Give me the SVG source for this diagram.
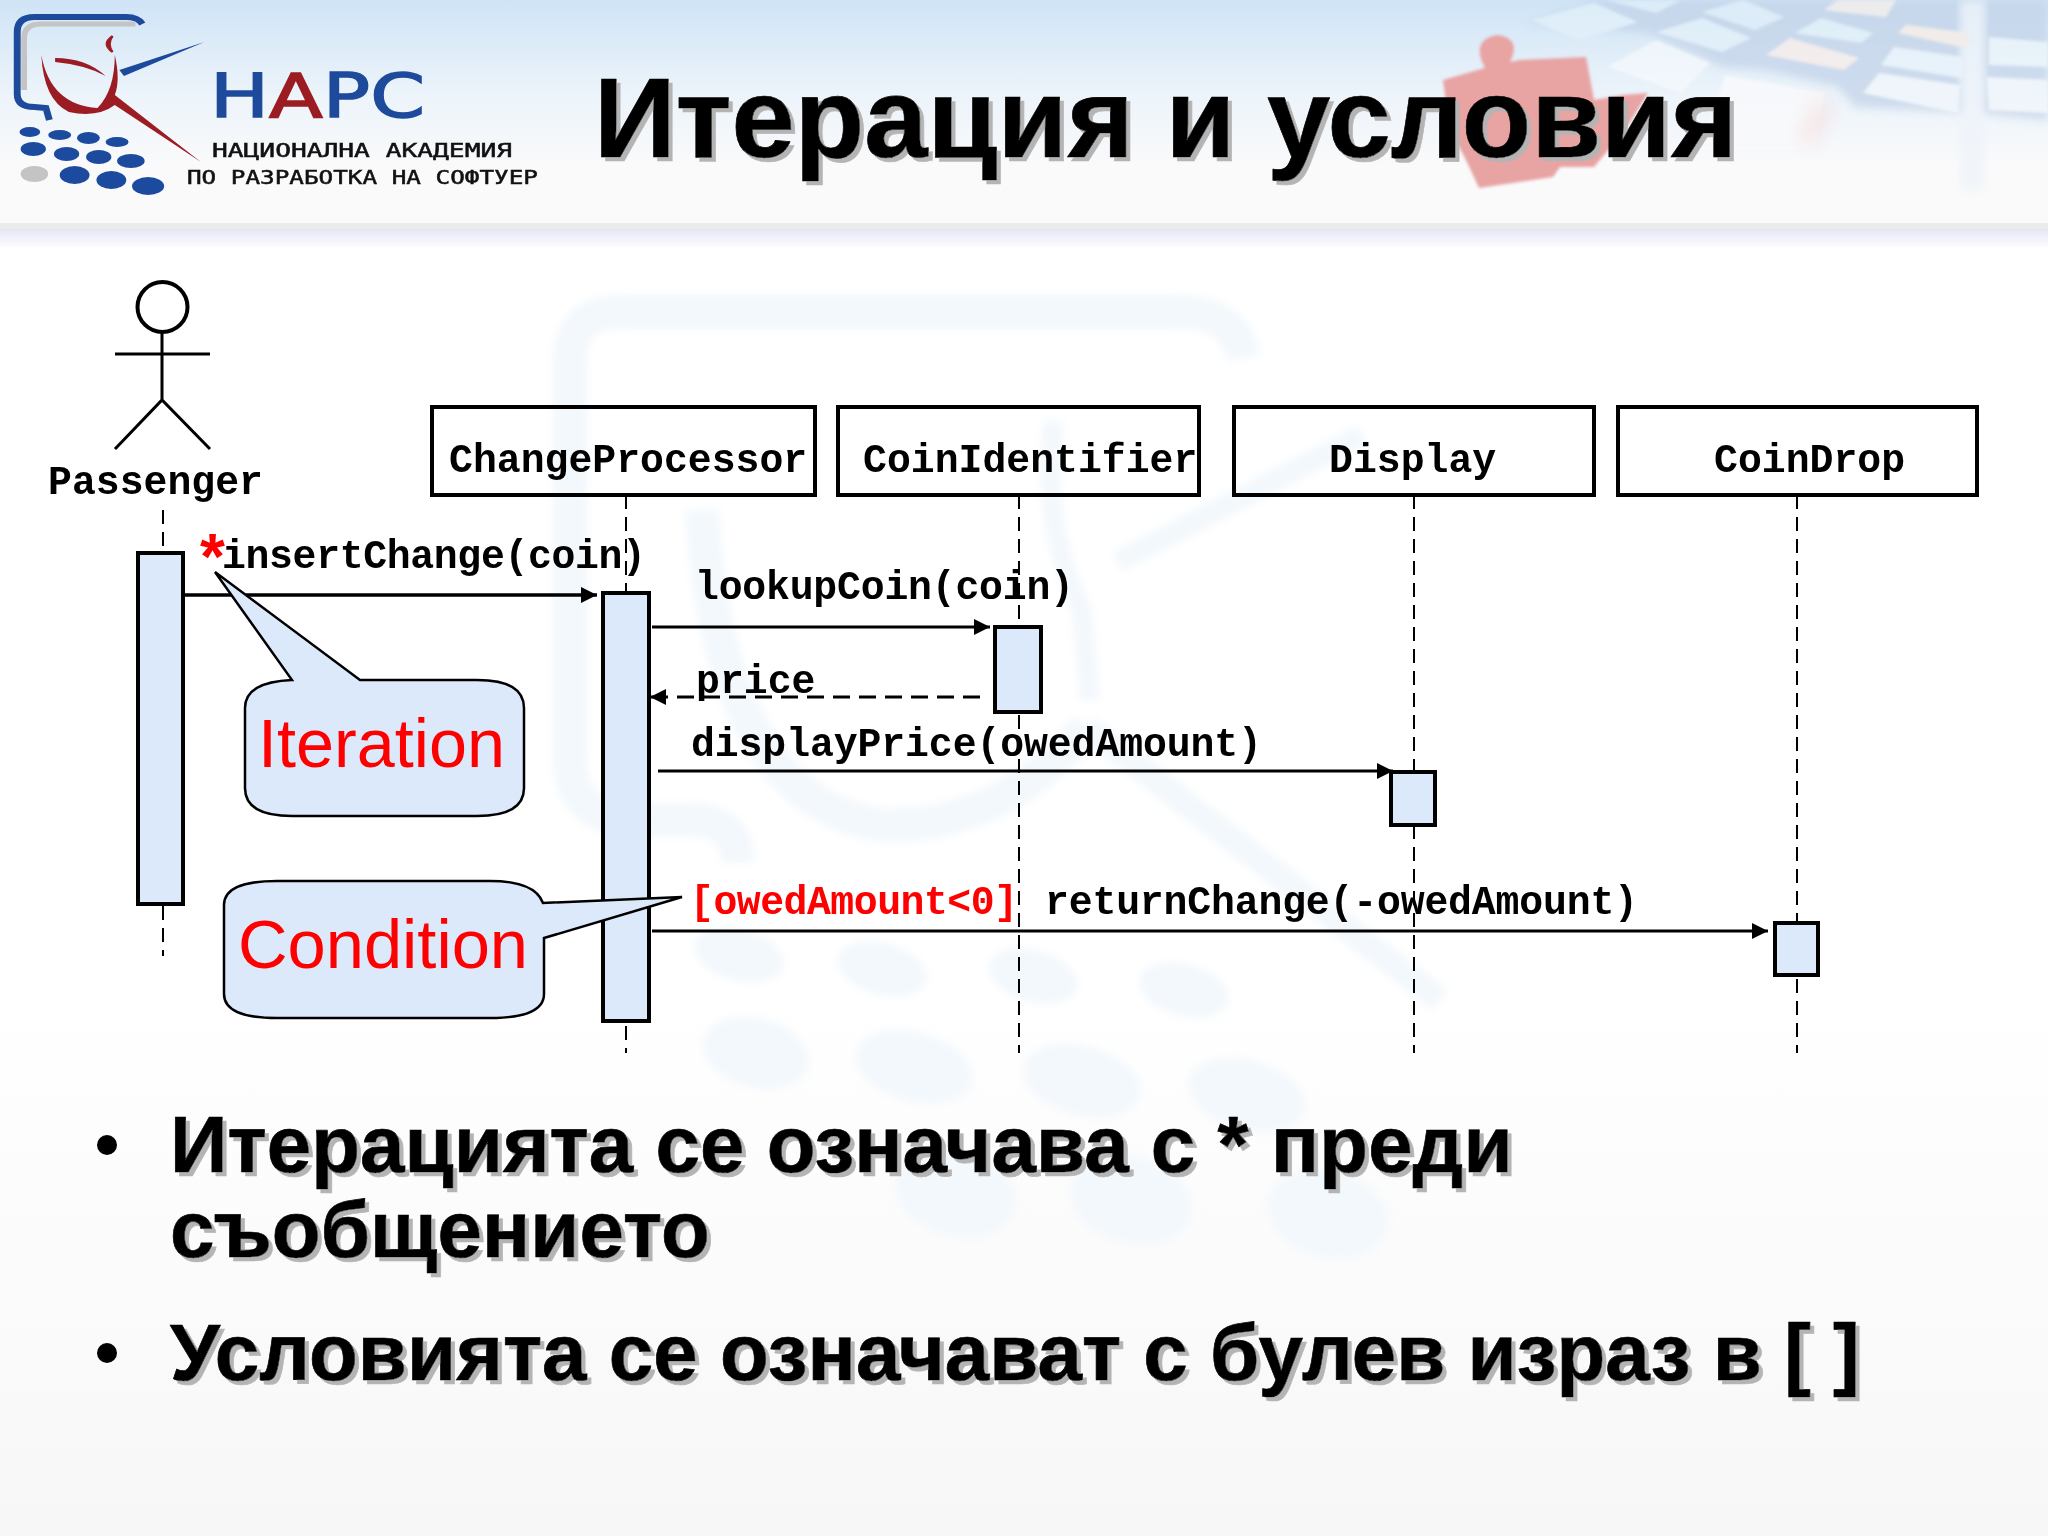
<svg xmlns="http://www.w3.org/2000/svg" width="2048" height="1536" viewBox="0 0 2048 1536">
<defs>
<linearGradient id="page" x1="0" y1="0" x2="0" y2="1"><stop offset="0" stop-color="#ffffff"/><stop offset="0.65" stop-color="#ffffff"/><stop offset="1" stop-color="#f7f7f7"/></linearGradient>
<linearGradient id="head" x1="0" y1="0" x2="0" y2="1"><stop offset="0" stop-color="#cfe4f6"/><stop offset="0.4" stop-color="#ebf3fa"/><stop offset="0.75" stop-color="#fafafb"/><stop offset="1" stop-color="#fafafa"/></linearGradient>
<linearGradient id="band" x1="0" y1="0" x2="0" y2="1"><stop offset="0" stop-color="#e4e6f6"/><stop offset="1" stop-color="#ffffff"/></linearGradient>
<filter id="soft" x="-10%" y="-10%" width="120%" height="120%"><feGaussianBlur stdDeviation="4"/></filter>
<filter id="softer" x="-30%" y="-30%" width="160%" height="160%"><feGaussianBlur stdDeviation="10"/></filter>
<filter id="tiny" x="-5%" y="-5%" width="110%" height="110%"><feGaussianBlur stdDeviation="1.5"/></filter>
<filter id="shadow" x="-5%" y="-10%" width="110%" height="130%"><feDropShadow dx="4" dy="4" stdDeviation="0.5" flood-color="#b4b4b4"/></filter>
<marker id="solid" markerUnits="userSpaceOnUse" markerWidth="16" markerHeight="16" refX="16" refY="8" orient="auto"><path d="M0,0 L16,8 L0,16 Z" fill="#000"/></marker>
</defs>
<style>
.mono{font-family:"Liberation Mono","DejaVu Sans Mono",monospace;font-weight:700;font-size:39.8px;fill:#000}
.sans{font-family:"Liberation Sans",Arial,sans-serif}
.big{font-weight:700;filter:url(#shadow);fill:#000;stroke:#000;stroke-width:0.7}
.box{fill:none;stroke:#000;stroke-width:4}
.act{fill:#dbe9fb;stroke:#000;stroke-width:4}
.life{stroke:#000;stroke-width:2;stroke-dasharray:14 8;fill:none}
.msg{stroke:#000;stroke-width:3;fill:none;marker-end:url(#solid)}
.call{fill:#dbe9fb;stroke:#000;stroke-width:2.5}
.red{fill:#ff0000}
.wm{fill:#f3f8fc}
.wl{fill:none;stroke:#f3f8fc;stroke-width:34}
.logotxt{font-family:"DejaVu Sans Mono",monospace;font-size:19px;fill:#111;stroke:#111;stroke-width:0.5}
</style>

<g id="background">
<rect width="2048" height="1536" fill="url(#page)"/>
<g id="watermark" filter="url(#soft)">
<path class="wl" d="M1244,358 Q1235,312 1180,312 L620,312 Q570,312 570,360 L570,760 Q570,820 640,820 L700,820 Q738,825 738,863"/>
<path class="wl" d="M702,510 Q720,800 880,825 Q1000,830 1087,727"/>
<path class="wl" style="stroke-width:22" d="M1117,562 L1363,435"/>
<path class="wl" style="stroke-width:20" d="M1054,421 Q1040,520 1082,611 L1090,700"/>
<path class="wl" style="stroke-width:26" d="M1087,727 L1440,1000"/>
<g class="wm">
<ellipse cx="739" cy="955" rx="46" ry="26" transform="rotate(15 739 955)"/>
<ellipse cx="882" cy="969" rx="46" ry="26" transform="rotate(15 882 969)"/>
<ellipse cx="1033" cy="976" rx="46" ry="26" transform="rotate(15 1033 976)"/>
<ellipse cx="1184" cy="990" rx="46" ry="26" transform="rotate(15 1184 990)"/>
<ellipse cx="756" cy="1053" rx="54" ry="35" transform="rotate(15 756 1053)"/>
<ellipse cx="914" cy="1067" rx="60" ry="35" transform="rotate(15 914 1067)"/>
<ellipse cx="1082" cy="1081" rx="60" ry="35" transform="rotate(15 1082 1081)"/>
<ellipse cx="1247" cy="1095" rx="60" ry="35" transform="rotate(15 1247 1095)"/>
<ellipse cx="956" cy="1193" rx="62" ry="44" transform="rotate(15 956 1193)"/>
<ellipse cx="1131" cy="1200" rx="62" ry="44" transform="rotate(15 1131 1200)"/>
<ellipse cx="1328" cy="1214" rx="62" ry="44" transform="rotate(15 1328 1214)"/>
</g>
</g>
</g>

<g id="header">
<rect width="2048" height="223" fill="url(#head)"/>
<rect y="223" width="2048" height="6" fill="#ebebeb"/>
<rect y="229" width="2048" height="20" fill="url(#band)"/>
<g id="keyboard" filter="url(#tiny)" opacity="0.75">
<path d="M1528,23 L1598,0 L2048,0 L2048,120 L1978,113 L1855,107 L1838,87 L1764,70 L1722,67 L1648,33 Z" fill="#c3d3e8" filter="url(#soft)"/>
<path d="M1960,0 H1985 L1985,190 H1960 Z" fill="#eef3f9" filter="url(#soft)"/>
<path d="M1532,20 L1594,3 L1638,22 L1578,40 Z" fill="#e2f0f9"/>
<path d="M1607,0 L1681,0 L1656,13 Z" fill="#dfeef8"/>
<path d="M1656,32 L1702,18 L1751,38 L1722,52 Z" fill="#e2f0f9"/>
<path d="M1702,12 L1743,0 L1784,17 L1755,30 Z" fill="#dfeef8"/>
<path d="M1766,55 L1790,38 L1859,58 L1844,70 Z" fill="#f8ece8"/>
<path d="M1795,33 L1821,18 L1873,33 L1861,43 Z" fill="#e2f0f9"/>
<path d="M1824,10 L1838,0 L1896,0 L1886,17 Z" fill="#f5eeea"/>
<path d="M1898,33 L1906,25 L1970,33 L1966,48 Z" fill="#f8ede6"/>
<path d="M1881,65 L1894,47 L1964,57 L1962,78 Z" fill="#e9f3fa"/>
<path d="M1863,93 L1879,73 L1960,85 L1958,113 Z" fill="#f0f6fb"/>
<path d="M1989,37 L2048,42 L2048,67 L1989,65 Z" fill="#ebf4fa"/>
<path d="M1987,77 L2048,80 L2048,113 L1989,110 Z" fill="#f0f6fb"/>
<path d="M1607,67 L1656,40 L1710,63 L1681,93 Z" fill="#f5f9fc"/>
<path d="M1725,75 L1825,93 L1813,150 L1700,150 Z" fill="#fafafb"/>
</g>
<path d="M1820,100 L1832,104 L1812,145 L1800,140 Z" fill="#f6dddd" filter="url(#softer)"/>
<g id="puzzle" filter="url(#tiny)">
<path d="M1443,80 L1485,68 Q1470,40 1497,35 Q1522,38 1510,62 L1520,60 L1586,57 L1594,100 L1623,95 L1648,93 L1625,130 L1594,167 L1560,167 L1553,177 L1479,188 L1466,160 L1450,130 Z" fill="#e8a3a3"/>
</g>
<g id="logo">
<g transform="scale(1.148,1)">
<path d="M124,24 Q120,17 110,17 L30,17 Q15,17 15,32 L15,94 Q15,107 30,107 L40,108 L43,120" fill="none" stroke="#1e4a9c" stroke-width="6"/>
<path d="M118,24 L36,24 Q21,24 21,38 L21,90" fill="none" stroke="#c4c4c4" stroke-width="5"/>
<path d="M36,55 Q44,105 85,108 Q100,90 100,55 Q105,80 100,95 L175,162 L100,105 Q85,118 60,112 Q38,100 36,55 Z" fill="#9b1c22"/>
<path d="M48,58 Q75,58 92,76 Q75,65 48,62 Z" fill="#9b1c22"/>
<path d="M98,36 Q88,44 98,52 Q93,44 98,36 Z" fill="#9b1c22" stroke="#9b1c22" stroke-width="2"/>
<path d="M104,70 L178,42 L108,76 Z" fill="#1e4a9c"/>
<g fill="#1b4a9e">
<ellipse cx="26" cy="132" rx="9" ry="5"/><ellipse cx="52" cy="135" rx="10" ry="5"/><ellipse cx="77" cy="138" rx="10" ry="6"/><ellipse cx="102" cy="142" rx="10" ry="5"/>
<ellipse cx="29" cy="149" rx="11" ry="7"/><ellipse cx="58" cy="154" rx="11" ry="7"/><ellipse cx="86" cy="157" rx="11" ry="7"/><ellipse cx="114" cy="161" rx="12" ry="7"/>
<ellipse cx="65" cy="175" rx="13" ry="9"/><ellipse cx="97" cy="180" rx="13" ry="9"/><ellipse cx="129" cy="186" rx="14" ry="9"/>
</g>
<ellipse cx="30" cy="174" rx="12" ry="8" fill="#c4c4c4"/>
</g>
<text x="210" y="117" font-family="'DejaVu Sans',sans-serif" font-size="60" textLength="215" lengthAdjust="spacingAndGlyphs" fill="#1e4a9c" stroke="#1e4a9c" stroke-width="1.5">Н<tspan fill="#9b1c22" stroke="#9b1c22">А</tspan>РС</text>
<text class="logotxt" x="212" y="157" textLength="300" lengthAdjust="spacingAndGlyphs">НАЦИОНАЛНА АКАДЕМИЯ</text>
<text class="logotxt" x="187" y="184" textLength="351" lengthAdjust="spacingAndGlyphs">ПО РАЗРАБОТКА НА СОФТУЕР</text>
</g>
<text id="title" class="sans big" x="594" y="157" font-size="113.8">Итерация и условия</text>
</g>

<g id="connectors">
<path class="life" d="M163,510 V552"/>
<path class="life" d="M163,906 V956"/>
<path class="life" d="M626,495 V591"/>
<path class="life" d="M626,1026 V1053"/>
<path class="life" d="M1019,495 V1053"/>
<path class="life" d="M1414,495 V1053"/>
<path class="life" d="M1797,495 V1053"/>
<path class="msg" d="M181,595 H597" style="stroke-width:3.5"/>
<path class="msg" d="M652,627 H990"/>
<path class="msg" d="M980,697 H650" style="stroke-dasharray:17 9"/>
<path class="msg" d="M658,771 H1393"/>
<path class="msg" d="M652,931 H1768"/>
</g>

<g id="passenger">
<circle cx="162.500" cy="307" r="25" fill="none" stroke="#000" stroke-width="4"/>
<path d="M162,332 V400 M115,354 H210 M115,449 L162,400 L210,449" fill="none" stroke="#000" stroke-width="3"/>
<text class="mono" x="48" y="494">Passenger</text>
<rect class="act" x="138" y="553" width="45" height="351"/>
</g>
<g id="changeprocessor">
<rect class="box" x="432" y="407" width="383" height="88"/>
<text class="mono" x="449" y="472">ChangeProcessor</text>
<rect class="act" x="603" y="593" width="46" height="428"/>
</g>
<g id="coinidentifier">
<rect class="box" x="838" y="407" width="361" height="88"/>
<text class="mono" x="863" y="472">CoinIdentifier</text>
<rect class="act" x="995" y="627" width="46" height="85"/>
</g>
<g id="display">
<rect class="box" x="1234" y="407" width="360" height="88"/>
<text class="mono" x="1329" y="472">Display</text>
<rect class="act" x="1391" y="772" width="44" height="53"/>
</g>
<g id="coindrop">
<rect class="box" x="1618" y="407" width="359" height="88"/>
<text class="mono" x="1714" y="472">CoinDrop</text>
<rect class="act" x="1775" y="923" width="43" height="52"/>
</g>

<g id="messages">
<text class="mono" x="222" y="568" textLength="424">insertChange(coin)</text>
<text class="sans red" x="200" y="579" font-size="64" font-weight="700">*</text>
<text class="mono" x="695" y="599" textLength="379">lookupCoin(coin)</text>
<text class="mono" x="696" y="693">price</text>
<text class="mono" x="691" y="756" textLength="571">displayPrice(owedAmount)</text>
<text class="mono red" x="690" y="914" textLength="328">[owedAmount&lt;0]</text>
<text class="mono" x="1045" y="914" textLength="593">returnChange(-owedAmount)</text>
</g>

<g id="iteration-note">
<path class="call" d="M215,572 L292,680 Q245,682 245,708 L245,788 Q245,816 292,816 L477,816 Q524,816 524,788 L524,708 Q524,680 477,680 L360,680 Z"/>
<text class="sans red" x="258" y="767" font-size="69" textLength="247" lengthAdjust="spacingAndGlyphs">Iteration</text>
</g>
<g id="condition-note">
<path class="call" d="M543,903 Q535,881 490,881 L277,881 Q224,881 224,905 L224,994 Q224,1018 277,1018 L490,1018 Q544,1018 544,994 L544,938 L682,897 Z"/>
<text class="sans red" x="238" y="968" font-size="69" textLength="290" lengthAdjust="spacingAndGlyphs">Condition</text>
</g>

<g id="bullets">
<circle cx="107" cy="1145" r="10" fill="#000"/>
<circle cx="107" cy="1353" r="10" fill="#000"/>
<text class="sans big" x="170" y="1172" font-size="80">Итерацията се означава с * преди</text>
<text class="sans big" x="170" y="1257" font-size="80">съобщението</text>
<text class="sans big" x="170" y="1380" font-size="80">Условията се означават с булев израз в [ ]</text>
</g>
</svg>
